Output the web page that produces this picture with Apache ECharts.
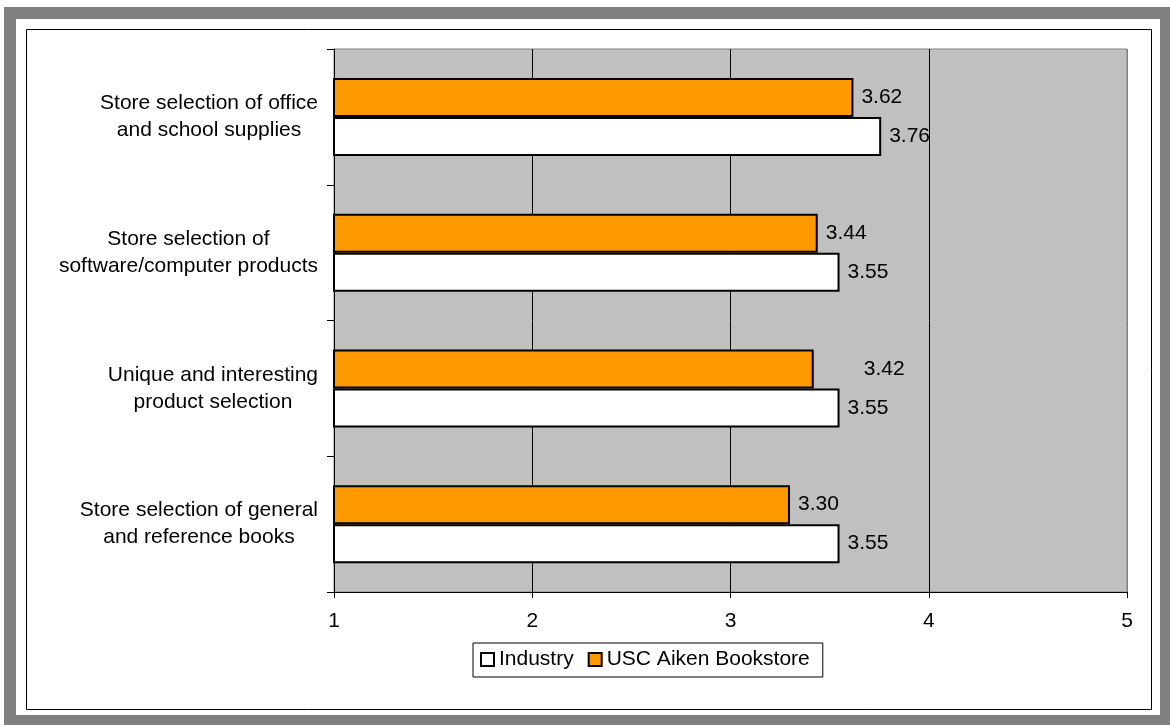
<!DOCTYPE html>
<html>
<head>
<meta charset="utf-8">
<script src="https://cdn.jsdelivr.net/npm/echarts@6/dist/echarts.min.js"></script>
<style>
  html, body { margin: 0; padding: 0; background: #fff; }
  #chart { width: 1170px; height: 725px; }
</style>
</head>
<body>
<div id="chart"></div>
<script>
// Survey items, listed top to bottom
const categories = [
  'Store selection of office\nand school supplies',
  'Store selection of\nsoftware/computer products',
  'Unique and interesting\nproduct selection',
  'Store selection of general\nand reference books'
];
const bookstoreScores = [3.62, 3.44, 3.42, 3.30];
const industryScores = [3.76, 3.55, 3.55, 3.55];
const xTicks = [1, 2, 3, 4, 5];

const chart = echarts.init(document.getElementById('chart'), null, { renderer: 'canvas' });

const FONT = 'Liberation Sans, Arial, sans-serif';
const FS = 21;

function labelled(values, extraOffsetIndex) {
  return values.map((v, i) => {
    const item = { value: v };
    if (i === extraOffsetIndex) {
      item.label = { distance: 50 };
    }
    return item;
  });
}

const valueLabel = {
  show: true, position: 'right', distance: 8, color: '#000',
  fontSize: FS, fontFamily: FONT, formatter: p => p.value.toFixed(2)
};

const option = {
  animation: false,
  backgroundColor: '#ffffff',
  graphic: [
    { type: 'rect', shape: { x: 4, y: 7, width: 1170, height: 725 }, style: { fill: '#808080' }, z: -10 },
    { type: 'rect', shape: { x: 16, y: 19, width: 1144, height: 696 }, style: { fill: '#ffffff' }, z: -9 },
    { type: 'rect', shape: { x: 26.5, y: 29.5, width: 1125, height: 680 }, style: { fill: null, stroke: '#000', lineWidth: 1 }, z: -8 }
  ],
  grid: {
    left: 334, right: 43, top: 49, bottom: 133,
    show: true,
    backgroundColor: '#C0C0C0',
    borderColor: '#808080',
    borderWidth: 1,
    containLabel: false
  },
  legend: {
    data: ['Industry', 'USC Aiken Bookstore'],
    left: 473, top: 643,
    orient: 'horizontal',
    icon: 'rect',
    itemWidth: 13, itemHeight: 13,
    itemGap: 14,
    padding: [6, 13, 7, 7],
    borderColor: '#000', borderWidth: 1,
    backgroundColor: '#fff',
    textStyle: { color: '#000', fontSize: FS, fontFamily: FONT, lineHeight: 21 }
  },
  xAxis: {
    type: 'value',
    min: xTicks[0], max: xTicks[xTicks.length - 1], interval: 1,
    axisLine: { show: true, onZero: false, lineStyle: { color: '#000', width: 1 } },
    axisTick: { show: true, length: 6, lineStyle: { color: '#000' } },
    axisLabel: { color: '#000', fontSize: FS, fontFamily: FONT, margin: 19 },
    splitLine: { show: true, lineStyle: { color: ['#000', '#000', '#000', '#000', '#808080'], width: 1 } }
  },
  yAxis: {
    type: 'category',
    data: categories,
    inverse: true,
    axisLine: { show: true, lineStyle: { color: '#000', width: 1 } },
    axisTick: { show: true, length: 7, lineStyle: { color: '#000' } },
    axisLabel: {
      color: '#000', fontSize: FS, fontFamily: FONT,
      align: 'right', margin: 16, lineHeight: 27,
      formatter: (v) => v.split('\n').map(s => '{c|' + s + '}').join('\n'),
      rich: { c: { align: 'center', fontSize: FS, lineHeight: 27, fontFamily: FONT, color: '#000' } }
    },
    splitLine: { show: false }
  },
  series: [
    {
      name: 'USC Aiken Bookstore',
      type: 'bar',
      data: labelled(bookstoreScores, 2),
      barWidth: 39,
      barGap: '0%',
      itemStyle: { color: '#FF9900', borderColor: '#000', borderWidth: 2 },
      label: valueLabel
    },
    {
      name: 'Industry',
      type: 'bar',
      data: labelled(industryScores, -1),
      barWidth: 39,
      barGap: '0%',
      itemStyle: { color: '#FFFFFF', borderColor: '#000', borderWidth: 2 },
      label: valueLabel
    }
  ]
};

chart.setOption(option);
</script>
</body>
</html>
